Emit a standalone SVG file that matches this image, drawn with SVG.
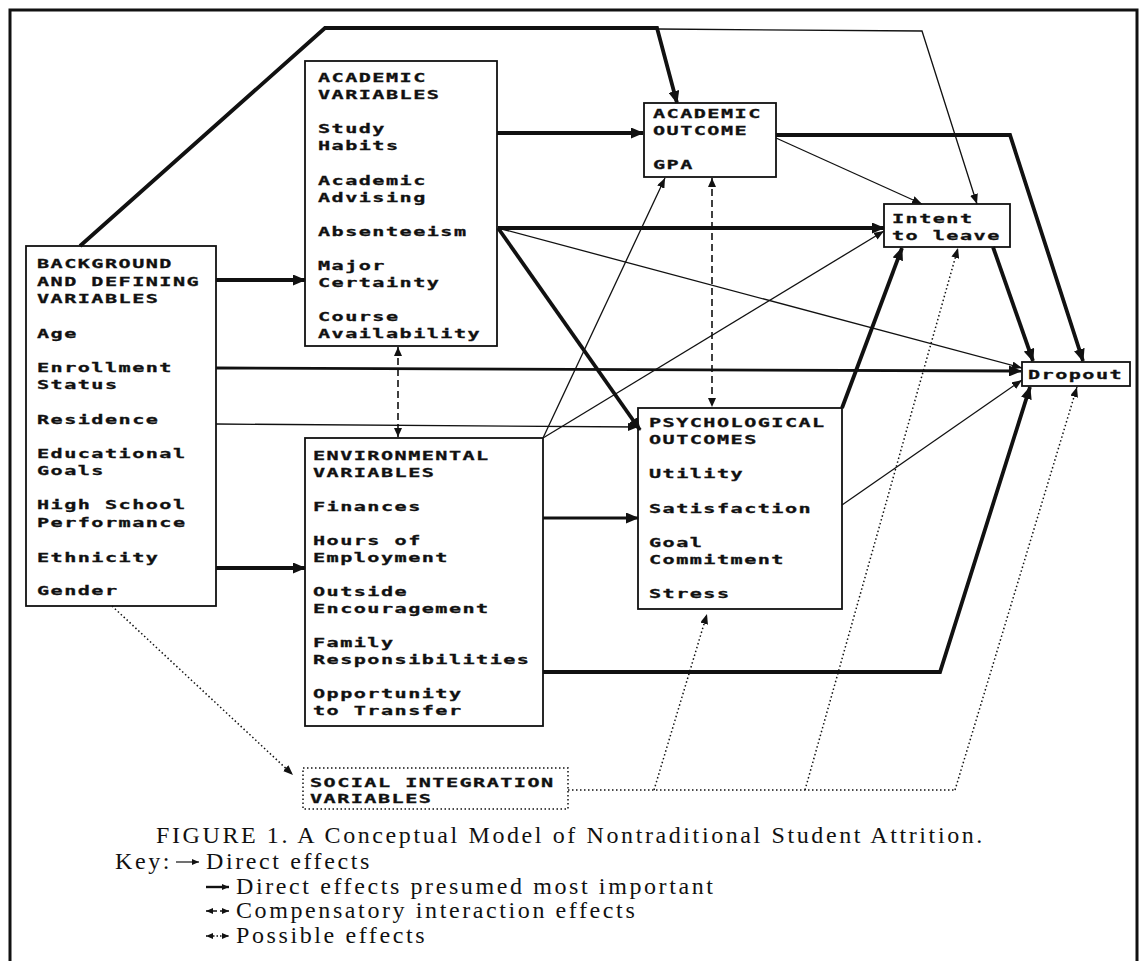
<svg xmlns="http://www.w3.org/2000/svg" width="1139" height="961" viewBox="0 0 1139 961">
<style>
.box{fill:none;stroke:#111;stroke-width:1.8}
.nt{font-family:"DejaVu Sans Mono","Liberation Mono",monospace;font-weight:bold;font-size:13px;letter-spacing:0.95px;fill:#111;stroke:#111;stroke-width:0.3}
.ln{fill:none;stroke:#111;stroke-linejoin:miter}
.thin{stroke-width:1.3;marker-end:url(#ah)}
.thick{stroke-width:3.8;marker-end:url(#ahb)}
.med{stroke-width:2.8;marker-end:url(#ahb)}
.dash{stroke-width:1.6;stroke-dasharray:7 4;marker-start:url(#ahd);marker-end:url(#ahd)}
.dot{stroke-width:1.5;stroke-dasharray:1.5 2.5}
.dota{marker-end:url(#ah)}
.cap{font-family:"Liberation Serif","Times New Roman",serif;font-size:24px;letter-spacing:2.6px;fill:#111}
</style>
<defs>
<marker id="ah" viewBox="0 0 10 8" refX="10" refY="4" markerWidth="10" markerHeight="8" markerUnits="userSpaceOnUse" orient="auto"><path d="M0,0 L10,4 L0,8 z" fill="#111"/></marker>
<marker id="ahb" viewBox="0 0 13 11" refX="12" refY="5.5" markerWidth="13" markerHeight="11" markerUnits="userSpaceOnUse" orient="auto"><path d="M0,0 L13,5.5 L0,11 z" fill="#111"/></marker>
<marker id="ahd" viewBox="0 0 9 8" refX="9" refY="4" markerWidth="9" markerHeight="8" markerUnits="userSpaceOnUse" orient="auto-start-reverse"><path d="M0,0 L9,4 L0,8 z" fill="#111"/></marker>
<marker id="ahk" viewBox="0 0 7 6" refX="7" refY="3" markerWidth="7" markerHeight="6" markerUnits="userSpaceOnUse" orient="auto-start-reverse"><path d="M0,0 L7,3 L0,6 z" fill="#111"/></marker>
</defs>
<rect x="0" y="0" width="1139" height="961" fill="#fff"/>
<rect x="10" y="10" width="1127" height="965" fill="none" stroke="#111" stroke-width="3"/>

<g id="connectors">
<polyline class="ln thick" points="80,246 325,28 657,28 677,103"/>
<polyline class="ln thin" points="657,29 922,31 977,204"/>
<line class="ln thick" x1="497" y1="133" x2="643" y2="133"/>
<line class="ln thick" x1="216" y1="280" x2="305" y2="280"/>
<line class="ln med" x1="216" y1="368" x2="1021" y2="371"/>
<line class="ln thin" x1="216" y1="424" x2="638" y2="427"/>
<line class="ln thick" x1="216" y1="568" x2="305" y2="568"/>
<line class="ln thick" x1="498" y1="228" x2="884" y2="228"/>
<line class="ln thin" x1="498" y1="228" x2="1022" y2="368"/>
<line class="ln thick" x1="498" y1="228" x2="640" y2="430"/>
<line class="ln thin" x1="543" y1="438" x2="665" y2="178"/>
<line class="ln thin" x1="543" y1="438" x2="884" y2="231"/>
<line class="ln med" x1="543" y1="518" x2="638" y2="518"/>
<polyline class="ln thick" points="543,672 940,672 1030,387"/>
<line class="ln thin" x1="776" y1="138" x2="922" y2="204"/>
<polyline class="ln thick" points="776,135 1010,135 1083,361"/>
<line class="ln thick" x1="993" y1="247" x2="1033" y2="361"/>
<line class="ln thick" x1="842" y1="408" x2="902" y2="248"/>
<line class="ln thin" x1="842" y1="505" x2="1022" y2="380"/>
<line class="ln dash" x1="398" y1="347" x2="398" y2="437"/>
<line class="ln dash" x1="712" y1="178" x2="712" y2="407"/>
<line class="ln dot dota" x1="112" y1="606" x2="293" y2="775"/>
<line class="ln dot" x1="568" y1="790" x2="955" y2="790"/>
<line class="ln dot dota" x1="654" y1="790" x2="707" y2="614"/>
<line class="ln dot dota" x1="805" y1="790" x2="958" y2="248"/>
<line class="ln dot dota" x1="955" y1="790" x2="1077" y2="387"/>
</g>

<g id="background">
<rect class="box" x="26" y="246" width="190" height="360"/>
<g transform="translate(37 0) scale(1.55 1)">
<text class="nt" y="268">BACKGROUND</text>
<text class="nt" y="286">AND DEFINING</text>
<text class="nt" y="303">VARIABLES</text>
<text class="nt" y="338">Age</text>
<text class="nt" y="372">Enrollment</text>
<text class="nt" y="389">Status</text>
<text class="nt" y="424">Residence</text>
<text class="nt" y="458">Educational</text>
<text class="nt" y="475">Goals</text>
<text class="nt" y="509">High School</text>
<text class="nt" y="527">Performance</text>
<text class="nt" y="562">Ethnicity</text>
<text class="nt" y="595">Gender</text>
</g>
</g>

<g id="academic">
<rect class="box" x="305" y="61" width="192" height="285"/>
<g transform="translate(318 0) scale(1.55 1)">
<text class="nt" y="82">ACADEMIC</text>
<text class="nt" y="99">VARIABLES</text>
<text class="nt" y="133">Study</text>
<text class="nt" y="150">Habits</text>
<text class="nt" y="185">Academic</text>
<text class="nt" y="202">Advising</text>
<text class="nt" y="236">Absenteeism</text>
<text class="nt" y="270">Major</text>
<text class="nt" y="287">Certainty</text>
<text class="nt" y="321">Course</text>
<text class="nt" y="338">Availability</text>
</g>
</g>

<g id="environmental">
<rect class="box" x="305" y="438" width="238" height="288"/>
<g transform="translate(313 0) scale(1.55 1)">
<text class="nt" y="460">ENVIRONMENTAL</text>
<text class="nt" y="477">VARIABLES</text>
<text class="nt" y="511">Finances</text>
<text class="nt" y="545">Hours of</text>
<text class="nt" y="562">Employment</text>
<text class="nt" y="596">Outside</text>
<text class="nt" y="613">Encouragement</text>
<text class="nt" y="647">Family</text>
<text class="nt" y="664">Responsibilities</text>
<text class="nt" y="698">Opportunity</text>
<text class="nt" y="715">to Transfer</text>
</g>
</g>

<g id="academic-outcome">
<rect class="box" x="644" y="103" width="132" height="74"/>
<g transform="translate(653 0) scale(1.55 1)">
<text class="nt" y="118">ACADEMIC</text>
<text class="nt" y="135">OUTCOME</text>
<text class="nt" y="169">GPA</text>
</g>
</g>

<g id="psychological">
<rect class="box" x="638" y="408" width="204" height="201"/>
<g transform="translate(649 0) scale(1.55 1)">
<text class="nt" y="427">PSYCHOLOGICAL</text>
<text class="nt" y="444">OUTCOMES</text>
<text class="nt" y="478">Utility</text>
<text class="nt" y="513">Satisfaction</text>
<text class="nt" y="547">Goal</text>
<text class="nt" y="564">Commitment</text>
<text class="nt" y="598">Stress</text>
</g>
</g>

<g id="intent">
<rect class="box" x="884" y="204" width="126" height="43"/>
<g transform="translate(892 0) scale(1.55 1)">
<text class="nt" y="223">Intent</text>
<text class="nt" y="240">to leave</text>
</g>
</g>

<g id="dropout">
<rect class="box" x="1022" y="362" width="108" height="24"/>
<g transform="translate(1028 0) scale(1.55 1)">
<text class="nt" y="379">Dropout</text>
</g>
</g>

<g id="social">
<rect x="303" y="768" width="265" height="41" fill="none" stroke="#111" stroke-width="1.5" stroke-dasharray="1.5 2.5"/>
<g transform="translate(310 0) scale(1.55 1)">
<text class="nt" y="787">SOCIAL INTEGRATION</text>
<text class="nt" y="803">VARIABLES</text>
</g>
</g>

<g id="caption">
<text class="cap" x="156" y="843">FIGURE 1. A Conceptual Model of Nontraditional Student Attrition.</text>
<text class="cap" x="115" y="869">Key:</text>
<line x1="176" y1="862" x2="199" y2="862" stroke="#111" stroke-width="1.2" marker-end="url(#ahk)"/>
<text class="cap" x="206" y="869">Direct effects</text>
<line x1="206" y1="887" x2="229" y2="887" stroke="#111" stroke-width="2.4" marker-end="url(#ahk)"/>
<text class="cap" x="236" y="894">Direct effects presumed most important</text>
<line x1="206" y1="911" x2="229" y2="911" stroke="#111" stroke-width="1.4" stroke-dasharray="4 3" marker-start="url(#ahk)" marker-end="url(#ahk)"/>
<text class="cap" x="236" y="918">Compensatory interaction effects</text>
<line x1="206" y1="936" x2="229" y2="936" stroke="#111" stroke-width="1.3" stroke-dasharray="1.5 2" marker-start="url(#ahk)" marker-end="url(#ahk)"/>
<text class="cap" x="236" y="943">Possible effects</text>
</g>
</svg>
